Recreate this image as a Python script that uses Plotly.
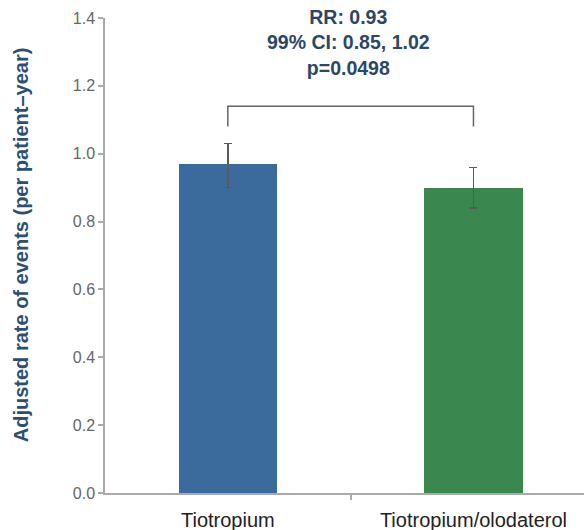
import plotly.graph_objects as go

categories = ["Tiotropium", "Tiotropium/olodaterol"]
x_pos = [0, 1]
rates = [0.97, 0.90]
ci_upper = [1.03, 0.96]
ci_lower = [0.90, 0.84]
bar_colors = ["#3b6a9c", "#3a8750"]
y_ticks = [0.0, 0.2, 0.4, 0.6, 0.8, 1.0, 1.2, 1.4]
bracket_top = 1.14
bracket_end = 1.08
stats_text = "RR: 0.93<br>99% CI: 0.85, 1.02<br>p=0.0498"
y_title = "Adjusted rate of events (per patient\u2013year)"

err_plus = [u - r for u, r in zip(ci_upper, rates)]
err_minus = [r - l for r, l in zip(rates, ci_lower)]

fig = go.Figure()
fig.add_trace(go.Bar(
    x=x_pos, y=rates, width=0.40,
    marker=dict(color=bar_colors, line=dict(width=0)),
    error_y=dict(type="data", symmetric=False, array=err_plus, arrayminus=err_minus,
                 color="#5a5a5a", thickness=1.5, width=4),
    showlegend=False,
))

# bracket
fig.add_shape(type="path",
              path=f"M {x_pos[0]},{bracket_end} L {x_pos[0]},{bracket_top} L {x_pos[1]},{bracket_top} L {x_pos[1]},{bracket_end}",
              line=dict(color="#666666", width=1.5), xref="x", yref="y")

fig.add_annotation(x=(x_pos[0] + x_pos[1]) / 2 - 0.01, y=1.0, xref="x", yref="paper",
                   yanchor="top", yshift=14, text="<b>" + stats_text + "</b>",
                   showarrow=False, align="center",
                   font=dict(family="Liberation Sans, Arial", size=19.5, color="#2b4766"))

fig.add_annotation(x=-0.175, xref="paper", y=0.522, yref="paper",
                   text="<b>" + y_title + "</b>", textangle=-90, showarrow=False,
                   xanchor="center", yanchor="middle",
                   font=dict(family="Liberation Sans, Arial", size=20, color="#2d4f74"))

fig.update_layout(
    width=584, height=530,
    margin=dict(l=105, r=0, t=18, b=37),
    plot_bgcolor="white", paper_bgcolor="white",
    bargap=0,
    xaxis=dict(range=[-0.5, 1.45], tickvals=x_pos, ticktext=categories,
               showline=True, linecolor="#aaaaaa", linewidth=1.5,
               ticks="", showgrid=False, zeroline=False, automargin=False,
               ticklabelstandoff=8,
               tickfont=dict(family="Liberation Sans, Arial", size=20, color="#222222"),
               minor=dict(tickvals=[0.5], ticks="outside", ticklen=5, tickcolor="#aaaaaa", tickwidth=1.5)),
    yaxis=dict(range=[0, 1.4], tickvals=y_ticks, ticktext=[f"{v:.1f}" for v in y_ticks],
               showline=True, linecolor="#aaaaaa", linewidth=1.5,
               ticks="outside", ticklen=5, tickcolor="#aaaaaa", tickwidth=1.5,
               showgrid=False, zeroline=False,
               tickfont=dict(family="Liberation Sans, Arial", size=16, color="#666666")),
)

fig.write_html("out.html", config={"displayModeBar": False},
               post_script="document.body.style.margin='0';document.body.style.overflow='hidden';")
